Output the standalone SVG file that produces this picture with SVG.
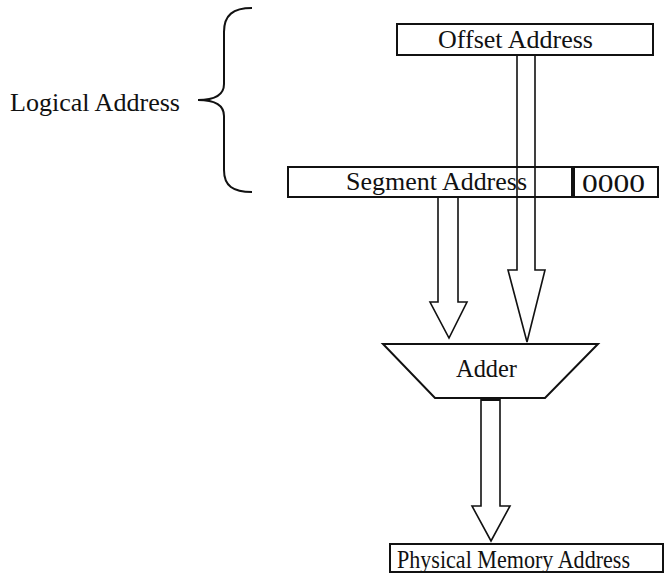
<svg xmlns="http://www.w3.org/2000/svg" width="665" height="574" viewBox="0 0 665 574">
<style>
.box{fill:#fff;stroke:#111;stroke-width:2}
.arrow{fill:#fff;stroke:#111;stroke-width:1.6;stroke-linejoin:miter}
.t{font-family:"Liberation Serif","Times New Roman",serif;font-size:25px;fill:#111}
.brace{fill:none;stroke:#111;stroke-width:2}
</style>
<rect width="665" height="574" fill="#fff"/>
<g id="logical">
<text class="t" x="10" y="111" textLength="170" lengthAdjust="spacingAndGlyphs">Logical Address</text>
<path class="brace" d="M252,8 C233,8 224,15 224,32 L224,84 C224,95 214,100 198,100 C214,100 224,105 224,116 L224,170 C224,186 233,192 252,192"/>
</g>
<g id="connectors">
<path class="arrow" d="M517,55 L535,55 L535,270 L545,270 L527,342 L508,270 L517,270 Z"/>
<path class="arrow" d="M438,197 L458,197 L458,302 L467,302 L449,338 L430,302 L438,302 Z"/>
<path class="arrow" d="M481,399 L500,399 L500,506 L510,506 L491,541 L472,506 L481,506 Z"/>
</g>
<g id="offset">
<rect class="box" x="397" y="24" width="256" height="31"/>
<text class="t" x="438" y="48" textLength="155" lengthAdjust="spacingAndGlyphs">Offset Address</text>
</g>
<g id="segment">
<rect class="box" x="288" y="167" width="284" height="30"/>
<text class="t" x="346" y="190" textLength="181" lengthAdjust="spacingAndGlyphs">Segment Address</text>
<path d="M517,167 L517,197 M535,167 L535,197" stroke="#111" stroke-width="1.6"/>
</g>
<g id="zeros">
<rect class="box" x="574" y="167" width="84" height="30"/>
<text class="t" x="582" y="192" font-size="28" textLength="63" lengthAdjust="spacingAndGlyphs">0000</text>
</g>
<g id="adder">
<path class="box" d="M383,344 L598,344 L545,398 L435,398 Z"/>
<text class="t" x="456" y="377" textLength="61" lengthAdjust="spacingAndGlyphs">Adder</text>
<rect x="481" y="397" width="19" height="4" fill="#111"/>
</g>
<g id="physical">
<rect class="box" x="390" y="544" width="273" height="28"/>
<text class="t" x="397" y="568" textLength="233" lengthAdjust="spacingAndGlyphs">Physical Memory Address</text>
</g>
</svg>
